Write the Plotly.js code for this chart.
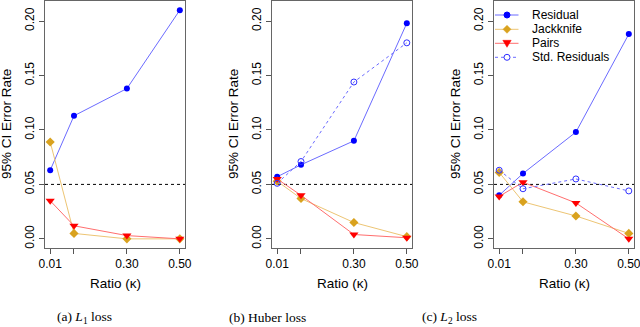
<!DOCTYPE html>
<html>
<head>
<meta charset="utf-8">
<script src="https://cdn.plot.ly/plotly-3.0.1.min.js"></script>
<style>html,body{margin:0;padding:0;background:#fff;}#chart{width:640px;height:327px;}</style>
</head>
<body>
<div id="chart"></div>
<script>
// ---- data ----
const ratio = [0.01, 0.1, 0.3, 0.5];
const ratioLabelVals = [0.01, 0.3, 0.5];
const ratioLabelText = ["0.01", "0.30", "0.50"];
const ratioMinorVals = [0.1];
const yTickVals = [0.00, 0.05, 0.10, 0.15, 0.20];
const yTickText = ["0.00", "0.05", "0.10", "0.15", "0.20"];
const nominalRate = 0.05;

// (a) L1 loss
const l1Residual  = [0.063, 0.113, 0.138, 0.210];
const l1Jackknife = [0.089, 0.005, 0.000, 0.000];
const l1Pairs     = [0.035, 0.012, 0.003, 0.000];

// (b) Huber loss
const huberResidual    = [0.057, 0.068, 0.090, 0.198];
const huberJackknife   = [0.053, 0.037, 0.015, 0.002];
const huberPairs       = [0.055, 0.040, 0.004, 0.001];
const huberStdResidual = [0.051, 0.071, 0.144, 0.180];

// (c) L2 loss
const l2Residual    = [0.040, 0.060, 0.098, 0.188];
const l2Jackknife   = [0.061, 0.034, 0.021, 0.005];
const l2Pairs       = [0.039, 0.052, 0.033, 0.000];
const l2StdResidual = [0.063, 0.046, 0.055, 0.044];

const seriesNames = ["Residual", "Jackknife", "Pairs", "Std. Residuals"];
const captions = ["(a) <i>L</i><sub>1</sub> loss", "(b) Huber loss", "(c) <i>L</i><sub>2</sub> loss"];
const xTitle = "Ratio (κ)";
const yTitle = "95% CI Error Rate";

// ---- styles ----
const styles = {
  "Residual":       {line: {color: "#6b6bff", width: 1}, marker: {symbol: "circle", size: 6, color: "#0000ff"}},
  "Jackknife":      {line: {color: "#edc574", width: 1}, marker: {symbol: "diamond", size: 7, color: "#d9a21e"}},
  "Pairs":          {line: {color: "#ff6e6e", width: 1}, marker: {symbol: "triangle-down", size: 8, color: "#ff0000"}},
  "Std. Residuals": {line: {color: "#6b6bff", width: 1, dash: "dot"}, marker: {symbol: "circle-open", size: 6, color: "#3030ff", line: {width: 1}}}
};

const panels = [
  {series: {"Residual": l1Residual, "Jackknife": l1Jackknife, "Pairs": l1Pairs}},
  {series: {"Residual": huberResidual, "Jackknife": huberJackknife, "Pairs": huberPairs, "Std. Residuals": huberStdResidual}},
  {series: {"Residual": l2Residual, "Jackknife": l2Jackknife, "Pairs": l2Pairs, "Std. Residuals": l2StdResidual}}
];

const W = 640, H = 327;
const plotLeftPx = [45, 272, 494];
const plotWidthPx = 140;
const plotTopPx = 1, plotBottomPx = 248;
const font = "Liberation Sans, Arial, Helvetica, sans-serif";
const px = v => v / W, py = v => 1 - v / H;

const traces = [];
const layout = {
  width: W, height: H,
  margin: {l: 0, r: 0, t: 0, b: 0},
  paper_bgcolor: "#fff", plot_bgcolor: "#fff",
  font: {family: font, size: 12, color: "#000"},
  showlegend: false,
  shapes: [], annotations: []
};

panels.forEach((p, i) => {
  const k = i + 1;
  const xa = "x" + (k === 1 ? "" : k), ya = "y" + (k === 1 ? "" : k);
  const xKey = "xaxis" + (k === 1 ? "" : k), yKey = "yaxis" + (k === 1 ? "" : k);
  seriesNames.forEach(name => {
    const vals = p.series[name];
    if (!vals) return;
    const st = styles[name];
    traces.push({
      type: "scatter", mode: "lines+markers", name: name,
      x: ratio, y: vals, xaxis: xa, yaxis: ya,
      line: st.line, marker: st.marker, cliponaxis: false
    });
  });
  layout[xKey] = {
    domain: [px(plotLeftPx[i]), px(plotLeftPx[i] + plotWidthPx)], anchor: ya, range: [-0.0096, 0.5196],
    tickmode: "array", tickvals: ratioLabelVals, ticktext: ratioLabelText,
    ticks: "outside", ticklen: 5, tickcolor: "#555", ticklabeloverflow: "allow",
    minor: {tickmode: "array", tickvals: ratioMinorVals, ticks: "outside", ticklen: 5, tickcolor: "#555", showgrid: false},
    showline: true, mirror: true, linecolor: "#666", linewidth: 1,
    showgrid: false, zeroline: false, tickfont: {size: 12, family: font}
  };
  layout[yKey] = {
    domain: [py(plotBottomPx), py(plotTopPx)], anchor: xa, range: [-0.0084, 0.2184],
    tickmode: "array", tickvals: yTickVals, ticktext: yTickText, tickangle: -90,
    ticks: "outside", ticklen: 5, tickcolor: "#555",
    showline: true, mirror: true, linecolor: "#666", linewidth: 1,
    showgrid: false, zeroline: false, tickfont: {size: 12, family: font}
  };
  layout.shapes.push({type: "line", xref: xa + " domain", yref: ya, x0: 0, x1: 1, y0: nominalRate, y1: nominalRate,
                      line: {color: "#000", width: 1, dash: "3px,3px"}, layer: "below"});
  layout.annotations.push({xref: "paper", yref: "paper", x: px(plotLeftPx[i] + plotWidthPx / 2), y: py(283.5),
                           text: xTitle, showarrow: false, xanchor: "center", yanchor: "middle",
                           font: {family: font, size: 13.5}});
  layout.annotations.push({xref: "paper", yref: "paper", x: px(plotLeftPx[i] - 38.5), y: py(124.5), text: yTitle,
                           showarrow: false, textangle: -90, xanchor: "center", yanchor: "middle",
                           font: {family: font, size: 13.5}});
  layout.annotations.push({xref: "paper", yref: "paper", x: px([84, 267.5, 449][i]), y: py(317), text: captions[i],
                           showarrow: false, xanchor: "center", yanchor: "middle",
                           font: {family: "Liberation Serif, Times New Roman, serif", size: 13.5}});
});

// ---- legend key (inside panel c, top-left) ----
const legendRowsPx = [15, 29.3, 43.3, 57.3];
const keyX0 = 495, keyX1 = 518.5, keyMid = 507, textX = 529.5;
const keyPaths = {
  "Residual": null,
  "Jackknife": "M0,4 L4,0 L0,-4 L-4,0 Z",
  "Pairs": "M-4.2,3 L4.2,3 L0,-4 Z"
};
seriesNames.forEach((name, r) => {
  const st = styles[name];
  const yy = py(legendRowsPx[r]);
  layout.shapes.push({type: "line", xref: "paper", yref: "paper", x0: px(keyX0), x1: px(keyX1), y0: yy, y1: yy,
                      line: {color: st.line.color, width: 1, dash: st.line.dash || "solid"}});
  const base = {xref: "paper", yref: "paper", xsizemode: "pixel", ysizemode: "pixel", xanchor: px(keyMid), yanchor: yy};
  if (name === "Residual" || name === "Std. Residuals") {
    const open = name === "Std. Residuals";
    layout.shapes.push(Object.assign({}, base, {type: "circle", x0: -3, x1: 3, y0: -3, y1: 3,
      fillcolor: open ? "#fff" : st.marker.color, line: {color: st.marker.color, width: 1}}));
  } else {
    layout.shapes.push(Object.assign({}, base, {type: "path", path: keyPaths[name],
      fillcolor: st.marker.color, line: {color: st.marker.color, width: 0.5}}));
  }
  layout.annotations.push({xref: "paper", yref: "paper", x: px(textX), y: yy, text: name, showarrow: false,
                           xanchor: "left", yanchor: "middle", font: {family: font, size: 12}});
});

Plotly.newPlot("chart", traces, layout, {staticPlot: true, displayModeBar: false});
</script>
</body>
</html>
